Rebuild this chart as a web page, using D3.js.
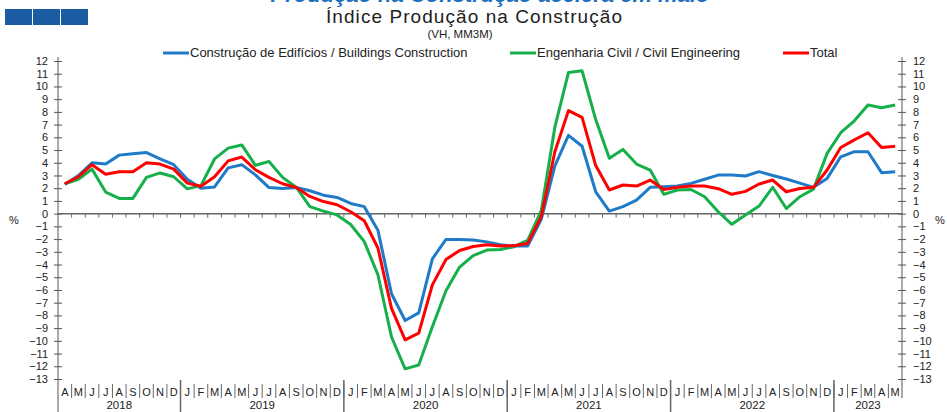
<!DOCTYPE html>
<html>
<head>
  <meta charset="utf-8">
  <title>Índice Produção na Construção</title>
  <script src="https://cdn.jsdelivr.net/npm/d3@7"></script>
  <style>
    body { margin: 0; background: #fff; }
    svg { font-family: "Liberation Sans", Arial, sans-serif; }
    .tick text { font-size: 11px; fill: #222; }
  </style>
</head>
<body>
<svg width="947" height="412"></svg>
<script>

// months Apr 2018 .. May 2023
var monthLabels = ["A","M","J","J","A","S","O","N","D",
  "J","F","M","A","M","J","J","A","S","O","N","D",
  "J","F","M","A","M","J","J","A","S","O","N","D",
  "J","F","M","A","M","J","J","A","S","O","N","D",
  "J","F","M","A","M","J","J","A","S","O","N","D",
  "J","F","M","A","M"];
var years = ["2018","2019","2020","2021","2022","2023"];
var yearMonths = [9, 12, 12, 12, 12, 5];
var yTicks = d3.range(-13, 13);

var buildings = [2.3,3.0,4.0,3.9,4.6,4.7,4.8,4.3,3.85,
  2.7,2.0,2.1,3.6,3.85,3.05,2.05,1.97,2.05,1.8,1.45,1.27,
  0.8,0.55,-1.3,-6.3,-8.4,-7.8,-3.55,-2.03,-2.03,-2.07,-2.22,-2.45,
  -2.55,-2.55,-0.45,3.75,6.15,5.3,1.72,0.2,0.55,1.07,2.07,2.12,
  2.17,2.38,2.7,3.03,3.03,2.96,3.3,3.0,2.72,2.4,2.07,2.77,
  4.47,4.87,4.87,3.22,3.3];
var civil = [2.35,2.7,3.5,1.7,1.2,1.2,2.85,3.2,2.9,
  1.95,2.2,4.3,5.15,5.4,3.8,4.1,2.85,2.08,0.55,0.2,-0.1,
  -0.85,-2.2,-4.8,-9.7,-12.2,-11.9,-8.9,-6.06,-4.2,-3.3,-2.86,-2.82,
  -2.6,-2.1,0.23,6.8,11.1,11.23,7.4,4.35,5.05,3.9,3.43,1.52,
  1.86,1.9,1.33,0.15,-0.84,-0.1,0.6,2.07,0.4,1.33,1.93,4.74,
  6.36,7.3,8.54,8.33,8.54];
var total = [2.35,2.9,3.85,3.1,3.3,3.3,4.0,3.9,3.5,
  2.4,2.15,2.9,4.15,4.45,3.45,2.85,2.35,2.05,1.35,0.95,0.7,
  0.15,-0.56,-2.7,-7.45,-9.93,-9.4,-5.6,-3.6,-2.9,-2.58,-2.45,-2.55,
  -2.52,-2.34,-0.24,4.87,8.1,7.57,3.78,1.86,2.25,2.17,2.64,1.9,
  2.07,2.17,2.17,1.96,1.52,1.75,2.33,2.64,1.72,1.98,2.07,3.43,
  5.2,5.8,6.36,5.2,5.3];

var series = [
  {name: "Construção de Edifícios / Buildings Construction", values: buildings, color: "#1f7ac8"},
  {name: "Engenharia Civil / Civil Engineering", values: civil, color: "#16b04a"},
  {name: "Total", values: total, color: "#ff0000"}
];

var svg = d3.select("svg");
var plotL = 58, plotR = 902, plotT = 61, plotB = 379;

var x = d3.scaleBand().domain(d3.range(monthLabels.length)).range([plotL, plotR]);
var y = d3.scaleLinear().domain([-13, 12]).range([plotB, plotT]);
var bw = x.bandwidth();

// header
svg.append("text").attr("x", 490).attr("y", 2)
  .attr("text-anchor", "middle").attr("font-size", 22)
  .attr("font-weight", "bold").attr("font-style", "italic")
  .attr("fill", "#1f6fbf").text("Produção na Construção acelera em maio");
[5, 33, 61].forEach(function(sx) {
  svg.append("rect").attr("x", sx).attr("y", 9).attr("width", 27).attr("height", 16).attr("fill", "#1b5ca3");
});
svg.append("text").attr("x", 474).attr("y", 23).attr("text-anchor", "middle")
  .attr("font-size", 19).attr("textLength", 296).attr("fill", "#222").text("Índice Produção na Construção");
svg.append("text").attr("x", 460).attr("y", 38).attr("text-anchor", "middle")
  .attr("font-size", 11.5).attr("fill", "#222").text("(VH, MM3M)");

// legend
var legendX = [163, 510, 783];
series.forEach(function(s, i) {
  var g = svg.append("g").attr("transform", "translate(" + legendX[i] + ",53)");
  g.append("line").attr("x1", 0).attr("x2", 26).attr("stroke", s.color).attr("stroke-width", 3);
  g.append("text").attr("x", 27).attr("y", 4).attr("font-size", 13).attr("fill", "#222").text(s.name);
});

// y axes
var axL = svg.append("g").attr("transform", "translate(" + plotL + ",0)")
  .call(d3.axisLeft(y).tickValues(yTicks).tickSize(4).tickPadding(6));
var axR = svg.append("g").attr("transform", "translate(" + plotR + ",0)")
  .call(d3.axisRight(y).tickValues(yTicks).tickSize(4).tickPadding(6));
[axL, axR].forEach(function(ax, k) {
  ax.select(".domain").remove();
  ax.selectAll(".tick line").attr("x1", -4).attr("x2", 4).attr("stroke", "#555");
  ax.selectAll(".tick text").attr("x", k ? 11 : -10);
});
svg.append("line").attr("x1", plotL).attr("x2", plotL).attr("y1", plotT - 4).attr("y2", 412).attr("stroke", "#555");
svg.append("line").attr("x1", plotR).attr("x2", plotR).attr("y1", plotT - 4).attr("y2", 398).attr("stroke", "#555");
svg.append("text").attr("x", 14).attr("y", 224).attr("text-anchor", "middle").attr("font-size", 11).attr("fill", "#222").text("%");
svg.append("text").attr("x", 940).attr("y", 224).attr("text-anchor", "middle").attr("font-size", 11).attr("fill", "#222").text("%");

// zero line with month ticks
svg.append("line").attr("x1", plotL).attr("x2", plotR).attr("y1", y(0)).attr("y2", y(0)).attr("stroke", "#666").attr("stroke-width", 1.5);
svg.append("g").selectAll("line").data(d3.range(1, monthLabels.length)).enter().append("line")
  .attr("x1", function(i) { return x(i); }).attr("x2", function(i) { return x(i); })
  .attr("y1", y(0)).attr("y2", y(0) + 4).attr("stroke", "#666");

// month / year category axis
var cat = svg.append("g");
cat.selectAll(".sep").data(d3.range(1, monthLabels.length)).enter().append("line")
  .attr("x1", function(i) { return x(i); }).attr("x2", function(i) { return x(i); })
  .attr("y1", 384).attr("y2", 398).attr("stroke", "#666");
cat.selectAll(".mlab").data(monthLabels).enter().append("text")
  .attr("x", function(d, i) { return x(i) + bw / 2; }).attr("y", 396)
  .attr("text-anchor", "middle").attr("font-size", 11).attr("fill", "#222").text(function(d) { return d; });
var start = 0;
years.forEach(function(yr, k) {
  var n = yearMonths[k];
  if (start > 0) {
    cat.append("line").attr("x1", x(start)).attr("x2", x(start)).attr("y1", 380).attr("y2", 412).attr("stroke", "#666").attr("stroke-width", 1.5);
  }
  cat.append("text").attr("x", x(start) + n * bw / 2).attr("y", 409)
    .attr("text-anchor", "middle").attr("font-size", 11.5).attr("fill", "#222").text(yr);
  start += n;
});

// lines
var line = d3.line()
  .x(function(d, i) { return x(i) + bw / 2; })
  .y(function(d) { return y(d); });
series.forEach(function(s) {
  svg.append("path").datum(s.values)
    .attr("fill", "none").attr("stroke", s.color).attr("stroke-width", 3)
    .attr("stroke-linejoin", "round").attr("d", line);
});

</script>
</body>
</html>
